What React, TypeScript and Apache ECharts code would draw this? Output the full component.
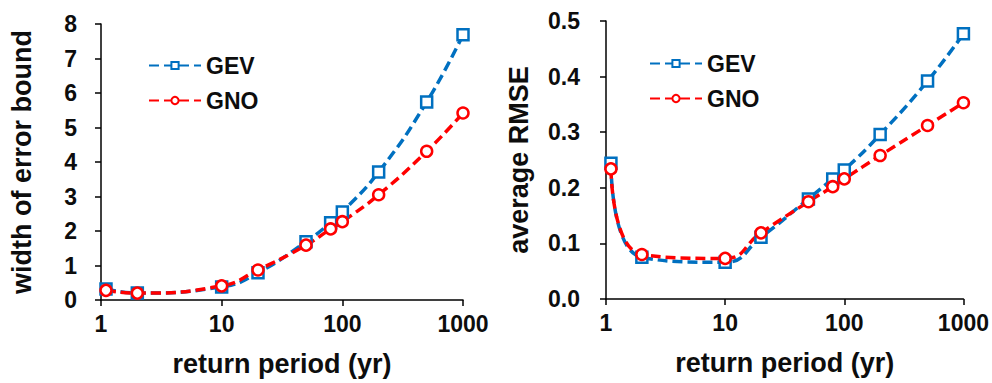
import React, { useEffect, useRef } from "react";
import * as echarts from "echarts";

const returnPeriods = [1.1, 2, 10, 20, 50, 80, 100, 200, 500, 1000];
const gevWidth = [0.32, 0.2, 0.38, 0.79, 1.69, 2.24, 2.55, 3.71, 5.74, 7.69];
const gnoWidth = [0.28, 0.2, 0.41, 0.87, 1.59, 2.06, 2.27, 3.05, 4.31, 5.42];
const gevRmse = [0.244, 0.075, 0.066, 0.111, 0.18, 0.216, 0.232, 0.296, 0.392, 0.477];
const gnoRmse = [0.234, 0.08, 0.073, 0.119, 0.175, 0.202, 0.216, 0.258, 0.312, 0.353];

const FONT = "'Liberation Sans', Arial, sans-serif";
const BLUE = "#0070C0";
const RED = "#FF0000";
const TEXT = "#0d0d0d";

function pairs(xs: number[], ys: number[]) {
  return xs.map((x, i) => [x, ys[i]]);
}

export default function App() {
  const ref = useRef<HTMLDivElement>(null);
  useEffect(() => {
    if (!ref.current) return;
    const chart = echarts.init(ref.current, null, { renderer: "svg" });
    const xAxisBase = (gridIndex: number) => ({
      type: "log" as const,
      logBase: 10,
      min: 1,
      max: 1000,
      gridIndex,
      name: "return period (yr)",
      nameLocation: "middle" as const,
      nameGap: 50,
      nameTextStyle: { fontFamily: FONT, fontWeight: "bold" as const, fontSize: 27, color: TEXT },
      axisLine: { lineStyle: { color: "#000", width: 1.5 } },
      axisTick: { show: true, length: 6, inside: false, lineStyle: { color: "#000", width: 1.5 } },
      minorTick: { show: false },
      splitLine: { show: false },
      axisLabel: {
        fontFamily: FONT,
        fontWeight: "bold" as const,
        fontSize: 23,
        color: TEXT,
        margin: 12,
        formatter: (v: number) => String(Math.round(v)),
      },
    });
    const seriesStyle = (color: string, symbol: string) => ({
      type: "line" as const,
      smooth: 0.5,
      symbol,
      symbolSize: 11,
      showAllSymbol: true,
      lineStyle: { color, width: 3.5, type: [10, 5] as any },
      itemStyle: { color: "#fff", borderColor: color, borderWidth: 2.5 },
    });
    const legendText = { fontFamily: FONT, fontWeight: "bold" as const, fontSize: 23, color: TEXT };
    chart.setOption({
      animation: false,
      grid: [
        { left: 101, top: 24, width: 362, height: 276 },
        { left: 606, top: 21, width: 360, height: 278 },
      ],
      legend: [
        {
          data: ["GEV", "GNO"].map((n) => ({ name: n })),
          orient: "vertical",
          left: 143,
          top: 49,
          itemWidth: 52,
          itemHeight: 9,
          itemGap: 12,
          textStyle: legendText,
        },
        {
          data: ["GEV ", "GNO "].map((n) => ({ name: n })),
          orient: "vertical",
          left: 644,
          top: 47,
          itemWidth: 52,
          itemHeight: 9,
          itemGap: 12,
          textStyle: legendText,
        },
      ],
      xAxis: [xAxisBase(0), xAxisBase(1)],
      yAxis: [
        {
          type: "value",
          gridIndex: 0,
          min: 0,
          max: 8,
          interval: 1,
          name: "width of error bound",
          nameLocation: "middle",
          nameGap: 66,
          nameTextStyle: { fontFamily: FONT, fontWeight: "bold", fontSize: 27, color: TEXT },
          axisLine: { show: true, lineStyle: { color: "#000", width: 1.5 } },
          axisTick: { show: true, length: 6, lineStyle: { color: "#000", width: 1.5 } },
          splitLine: { show: false },
          axisLabel: { fontFamily: FONT, fontWeight: "bold", fontSize: 23, color: TEXT, margin: 24 },
        },
        {
          type: "value",
          gridIndex: 1,
          min: 0,
          max: 0.5,
          interval: 0.1,
          name: "average RMSE",
          nameLocation: "middle",
          nameGap: 74,
          nameTextStyle: { fontFamily: FONT, fontWeight: "bold", fontSize: 27, color: TEXT },
          axisLine: { show: true, lineStyle: { color: "#000", width: 1.5 } },
          axisTick: { show: true, length: 6, lineStyle: { color: "#000", width: 1.5 } },
          splitLine: { show: false },
          axisLabel: {
            fontFamily: FONT,
            fontWeight: "bold",
            fontSize: 23,
            color: TEXT,
            margin: 26,
            formatter: (v: number) => v.toFixed(1),
          },
        },
      ],
      series: [
        { ...seriesStyle(BLUE, "rect"), name: "GEV", xAxisIndex: 0, yAxisIndex: 0, data: pairs(returnPeriods, gevWidth) },
        { ...seriesStyle(RED, "circle"), name: "GNO", xAxisIndex: 0, yAxisIndex: 0, data: pairs(returnPeriods, gnoWidth) },
        { ...seriesStyle(BLUE, "rect"), name: "GEV ", xAxisIndex: 1, yAxisIndex: 1, data: pairs(returnPeriods, gevRmse) },
        { ...seriesStyle(RED, "circle"), name: "GNO ", xAxisIndex: 1, yAxisIndex: 1, data: pairs(returnPeriods, gnoRmse) },
      ],
    });
    return () => chart.dispose();
  }, []);
  return (
    <div
      ref={ref}
      style={{ position: "fixed", left: 0, top: 0, width: 992, height: 383, background: "#fff" }}
    />
  );
}
